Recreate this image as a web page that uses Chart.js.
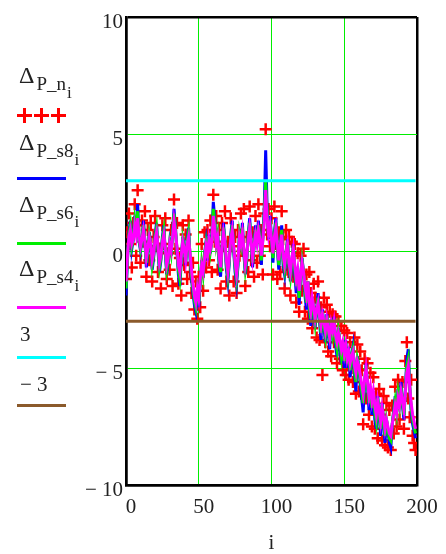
<!DOCTYPE html>
<html>
<head>
<meta charset="utf-8">
<script src="https://cdn.jsdelivr.net/npm/chart.js@4.4.0/dist/chart.umd.min.js"></script>
<style>
html, body { margin: 0; padding: 0; background: #fff; }
#wrap { position: relative; width: 446px; height: 554px; }
#chart { position: absolute; left: 0; top: 0; }
.lab { position: absolute; left: 19px; font-family: 'Liberation Serif', serif; font-size: 24px; line-height: 1; color: #222; white-space: nowrap; }
.num { font-size: 21px; left: 20px; }
.sb { font-size: 19px; position: relative; top: 7px; margin-left: 2px; }
.ss { font-size: 17px; position: relative; top: 8px; margin-left: 1px; }
.mk { position: absolute; left: 17px; width: 49px; height: 3px; }
.cr { position: absolute; top: 108px; width: 15px; height: 15px;
      background: linear-gradient(#f00, #f00) center / 100% 3px no-repeat,
                  linear-gradient(#f00, #f00) center / 3px 100% no-repeat; }
</style>
</head>
<body>
<div id="wrap">
  <canvas id="chart" width="446" height="554"></canvas>

  <div class="lab" style="top:63px">&Delta;<span class="sb">P_n<span class="ss">i</span></span></div>
  <div class="cr" style="left:17px"></div>
  <div class="cr" style="left:34px"></div>
  <div class="cr" style="left:51px"></div>

  <div class="lab" style="top:130px">&Delta;<span class="sb">P_s8<span class="ss">i</span></span></div>
  <div class="mk" style="top:177px; background:#0000ff"></div>

  <div class="lab" style="top:192px">&Delta;<span class="sb">P_s6<span class="ss">i</span></span></div>
  <div class="mk" style="top:242px; background:#00ee00"></div>

  <div class="lab" style="top:256px">&Delta;<span class="sb">P_s4<span class="ss">i</span></span></div>
  <div class="mk" style="top:306px; background:#ff00ff"></div>

  <div class="lab num" style="top:324px">3</div>
  <div class="mk" style="top:356px; background:#00ffff"></div>

  <div class="lab num" style="top:374px">&minus; 3</div>
  <div class="mk" style="top:404px; background:#8b5a2b"></div>
</div>

<script>
// значения (i = 0..199)
const dPn = [
  -1.2, 0.8, 1.6, 0.3, -0.7, 1.2, 2.0, -0.2, 2.6, 1.1,
  -0.5, 1.3, 0.4, 1.7, -1.1, 0.9, -0.4, 1.2, -1.3, 0.6,
  1.5, 0.2, -0.9, 0.1, -1.6, 1.1, 0.3, 1.4, -1.2, -0.1,
  -0.8, 0.9, -1.5, 2.2, 0.1, 1.2, -1.4, -0.3, -1.9, 1.1,
  -0.6, 0.7, -1.2, 1.3, -0.9, -1.8, -0.5, -2.5, -1.3, -2.9,
  -1.1, -2.4, 0.3, -1.7, 0.8, -0.7, 0.9, -0.4, 1.3, -0.9,
  2.4, 0.4, 1.5, -0.8, 0.9, -1.6, 1.2, 0.2, 1.7, -1.3,
  0.4, -1.9, 1.4, 0.2, -1.3, 0.6, -1.8, 0.9, -0.2, 1.6,
  0.0, 1.8, -1.5, 0.6, -0.9, 1.9, -0.4, 0.8, -1.1, 1.5,
  -0.5, 2.0, -0.2, 0.9, -1.0, 1.6, 5.2, 0.7, 1.8, 0.2,
  1.4, -1.0, 1.9, 0.3, -1.2, 0.8, -0.9, 1.7, 0.5, -1.6,
  0.9, -0.8, 0.6, -1.9, 0.4, -1.1, 0.3, -2.2, -0.1, -2.6,
  -0.2, -1.7, 0.1, -2.6, -1.0, -2.9, -0.9, -1.8, -3.3, -1.4,
  -2.0, -3.7, -1.3, -3.8, -2.4, -5.3, -2.0, -3.9, -2.3, -4.3,
  -2.6, -4.5, -2.7, -3.9, -2.8, -4.8, -3.0, -4.6, -3.2, -5.1,
  -3.4, -5.3, -3.5, -5.5, -3.9, -5.0, -5.6, -3.7, -6.1, -4.0,
  -6.0, -4.3, -5.1, -7.4, -4.6, -6.3, -4.8, -7.0, -5.2, -7.5,
  -5.4, -7.6, -6.1, -8.0, -5.9, -7.0, -8.1, -6.2, -8.3, -6.5,
  -8.4, -6.8, -8.5, -6.6, -7.8, -5.8, -7.5, -5.5, -7.2, -6.4,
  -5.6, -7.6, -4.7, -3.9, -6.3, -7.1, -5.5, -7.9, -8.2, -8.5
];

const dPs8 = [
  -1.9, -0.4, 0.8, 1.3, 0.1, 0.5, 1.5, 0.9, 2.0, 0.4,
  0.0, 0.5, 1.3, 0.4, -0.7, -0.1, 0.8, 0.3, -0.8, -0.3,
  0.7, 1.2, 0.0, -0.9, -0.4, 0.6, 1.1, -0.1, -1.0, -0.5,
  0.3, -0.2, 0.8, 1.8, 1.0, 0.0, -1.0, -1.5, -0.4, 0.6,
  0.1, -0.6, 0.5, 1.0, -0.3, -1.2, -1.8, -2.3, -2.6, -1.8,
  -2.4, -1.4, -0.4, -1.1, -0.1, 0.4, -0.4, 0.7, -0.1, 0.6,
  2.1, 1.4, 0.3, 0.8, -0.6, -1.1, 0.2, 1.2, 0.4, -0.8,
  -1.3, -0.5, 0.7, 1.3, 0.0, -0.9, -1.4, -0.6, 0.8, 0.3,
  1.2, -0.1, -1.0, -0.4, 0.7, 1.4, 0.4, -0.7, 0.2, 1.1,
  0.3, 1.3, 0.5, -0.6, 0.6, 1.8, 4.3, 1.8, 0.5, 1.5,
  0.5, -0.5, 0.8, 1.4, 0.1, -0.8, 0.2, 1.1, -0.6, -1.0,
  -0.1, 0.5, -0.7, -1.3, -0.5, 0.3, -1.0, -1.8, -1.0, -2.3,
  -1.1, -0.3, -0.9, -1.9, -2.5, -1.3, -2.6, -3.2, -2.0, -2.6,
  -3.3, -2.5, -1.8, -3.0, -3.8, -2.5, -3.2, -3.9, -2.7, -3.5,
  -4.2, -2.9, -3.6, -2.8, -4.0, -4.5, -3.3, -4.0, -4.8, -3.9,
  -5.0, -3.8, -5.0, -4.1, -5.4, -4.5, -4.1, -5.3, -6.0, -4.5,
  -4.9, -5.7, -6.3, -6.9, -5.7, -4.8, -5.8, -6.8, -5.8, -7.0,
  -6.0, -7.2, -7.6, -6.2, -7.0, -7.9, -6.5, -7.3, -8.2, -7.2,
  -7.7, -8.2, -8.4, -7.4, -6.8, -6.2, -6.9, -5.9, -6.6, -5.6,
  -6.6, -7.2, -5.9, -4.6, -4.2, -5.8, -6.9, -7.4, -7.7, -8.0
];

const dPs6 = [
  -1.6, -0.3, 0.7, 1.1, 0.2, 0.5, 1.3, 0.8, 1.7, 0.5,
  0.1, 0.5, 1.1, 0.4, -0.5, 0.0, 0.7, 0.3, -0.6, -0.2,
  0.6, 1.0, 0.1, -0.7, -0.3, 0.5, 0.9, 0.0, -0.8, -0.4,
  0.3, -0.1, 0.7, 1.6, 0.9, 0.1, -0.8, -1.2, -0.3, 0.5,
  0.1, -0.5, 0.4, 0.8, -0.2, -1.0, -1.6, -2.1, -2.4, -1.7,
  -2.2, -1.3, -0.5, -1.0, -0.2, 0.3, -0.3, 0.6, 0.0, 0.5,
  1.8, 1.2, 0.3, 0.7, -0.4, -0.9, 0.2, 1.0, 0.4, -0.6,
  -1.1, -0.4, 0.6, 1.1, 0.1, -0.7, -1.2, -0.5, 0.7, 0.3,
  1.0, 0.0, -0.8, -0.3, 0.6, 1.2, 0.4, -0.5, 0.2, 0.9,
  0.3, 1.1, 0.5, -0.4, 0.5, 1.5, 3.0, 1.6, 0.6, 1.3,
  0.5, -0.3, 0.7, 1.2, 0.2, -0.6, 0.2, 0.9, -0.4, -0.8,
  -0.1, 0.4, -0.6, -1.1, -0.4, 0.2, -0.8, -1.5, -0.9, -2.0,
  -1.1, -0.4, -0.9, -1.7, -2.2, -1.3, -2.4, -2.9, -2.0, -2.5,
  -3.1, -2.5, -2.0, -2.9, -3.5, -2.6, -3.1, -3.6, -2.8, -3.4,
  -3.9, -3.0, -3.5, -2.9, -3.8, -4.2, -3.4, -3.9, -4.5, -3.9,
  -4.7, -3.9, -4.8, -4.2, -5.1, -4.5, -4.2, -5.1, -5.6, -4.6,
  -4.9, -5.5, -6.0, -6.5, -5.6, -4.9, -5.7, -6.5, -5.8, -6.7,
  -6.0, -6.9, -7.3, -6.3, -6.9, -7.6, -6.6, -7.2, -7.9, -7.2,
  -7.6, -8.0, -8.1, -7.4, -6.9, -6.4, -6.9, -6.1, -6.6, -5.8,
  -6.5, -7.0, -6.0, -4.9, -4.6, -5.8, -6.7, -7.2, -7.5, -7.8
];

const dPs4 = [
  -1.3, -0.2, 0.6, 0.9, 0.3, 0.5, 1.1, 0.7, 1.4, 0.6,
  0.2, 0.5, 0.9, 0.4, -0.3, 0.1, 0.6, 0.3, -0.4, -0.1,
  0.5, 0.8, 0.2, -0.5, -0.2, 0.4, 0.7, 0.1, -0.6, -0.3,
  0.3, 0.0, 0.6, 1.3, 0.8, 0.2, -0.6, -0.9, -0.2, 0.4,
  0.1, -0.4, 0.3, 0.6, -0.1, -0.8, -1.4, -1.9, -2.2, -1.6,
  -2.0, -1.2, -0.6, -0.9, -0.3, 0.2, -0.2, 0.5, 0.1, 0.4,
  1.5, 1.0, 0.3, 0.6, -0.2, -0.7, 0.2, 0.8, 0.4, -0.4,
  -0.9, -0.3, 0.5, 0.9, 0.2, -0.5, -1.0, -0.4, 0.6, 0.3,
  0.8, 0.1, -0.6, -0.2, 0.5, 1.0, 0.4, -0.3, 0.2, 0.7,
  0.3, 0.9, 0.5, -0.2, 0.4, 1.2, 2.6, 1.4, 0.7, 1.1,
  0.5, -0.1, 0.6, 1.0, 0.3, -0.4, 0.2, 0.7, -0.2, -0.6,
  -0.1, 0.3, -0.5, -0.9, -0.3, 0.1, -0.6, -1.2, -0.8, -1.7,
  -1.1, -0.5, -0.9, -1.5, -1.9, -1.3, -2.2, -2.6, -2.0, -2.4,
  -2.9, -2.5, -2.2, -2.8, -3.2, -2.7, -3.0, -3.4, -2.9, -3.3,
  -3.7, -3.1, -3.4, -3.0, -3.6, -3.9, -3.5, -3.8, -4.2, -3.9,
  -4.4, -4.0, -4.6, -4.3, -4.8, -4.5, -4.3, -4.9, -5.2, -4.7,
  -4.9, -5.3, -5.7, -6.1, -5.5, -5.0, -5.6, -6.2, -5.8, -6.4,
  -6.0, -6.6, -7.0, -6.4, -6.8, -7.3, -6.7, -7.1, -7.6, -7.2,
  -7.5, -7.8, -7.9, -7.4, -7.0, -6.6, -6.9, -6.3, -6.6, -6.0,
  -6.4, -6.8, -6.1, -5.2, -4.9, -5.8, -6.5, -7.0, -7.3, -7.6
];

const levelHi = 3;
const levelLo = -3;

const xTicks = [0, 50, 100, 150, 200];
const yTicks = [-10, -5, 0, 5, 10];

const toXY = arr => arr.map((v, i) => ({ x: i, y: v }));
const flat = val => dPn.map((v, i) => ({ x: i, y: val }));

const serif = "'Liberation Serif', 'Times New Roman', serif";
const grid = '#00ee00';

function fmt(v) {
  return v < 0 ? '\u2212 ' + Math.abs(v) : String(v);
}

new Chart(document.getElementById('chart'), {
  type: 'line',
  data: {
    datasets: [
      { data: flat(levelHi), borderColor: '#00ffff', borderWidth: 3, pointRadius: 0, order: 0 },
      { data: flat(levelLo), borderColor: '#8b5a2b', borderWidth: 3, pointRadius: 0, order: 1 },
      { data: toXY(dPs4), borderColor: '#ff00ff', borderWidth: 3, pointRadius: 0, order: 2 },
      { data: toXY(dPs6), borderColor: '#00ee00', borderWidth: 3, pointRadius: 0, order: 3 },
      { data: toXY(dPs8), borderColor: '#0000ff', borderWidth: 3, pointRadius: 0, order: 4 },
      { data: toXY(dPn), showLine: false, pointStyle: 'cross', pointRadius: 6,
        pointBorderWidth: 2.5, borderColor: '#ff0000', backgroundColor: '#ff0000', order: 5 }
    ]
  },
  options: {
    responsive: false,
    animation: false,
    events: [],
    layout: { padding: { left: 86, top: 17, right: 29, bottom: 0 } },
    plugins: { legend: { display: false }, tooltip: { enabled: false } },
    scales: {
      x: {
        type: 'linear',
        min: 0, max: 200,
        afterBuildTicks: s => { s.ticks = xTicks.map(v => ({ value: v })); },
        afterFit: s => { s.height = 69; },
        grid: {
          drawTicks: false,
          color: c => (c.tick && (c.tick.value === 200 || c.tick.value === 0)) ? '#000' : grid,
          lineWidth: c => (c.tick && (c.tick.value === 200 || c.tick.value === 0)) ? 2.5 : 1
        },
        border: { display: true, color: '#000', width: 2.5 },
        ticks: { padding: 10, labelOffset: 5, color: '#222', font: { family: serif, size: 21 }, maxRotation: 0, callback: fmt },
        title: { display: true, text: 'i', color: '#222', font: { family: serif, size: 21, lineHeight: 1 }, padding: { top: 0, bottom: 0 } }
      },
      y: {
        type: 'linear',
        min: -10, max: 10,
        afterBuildTicks: s => { s.ticks = yTicks.map(v => ({ value: v })); },
        afterFit: s => { s.width = 40; },
        grid: {
          drawTicks: false,
          color: c => (c.tick && Math.abs(c.tick.value) === 10) ? '#000' : grid,
          lineWidth: c => (c.tick && Math.abs(c.tick.value) === 10) ? 2.5 : 1
        },
        border: { display: true, color: '#000', width: 2.5 },
        ticks: { padding: 3, labelOffset: 5, color: '#222', font: { family: serif, size: 21 }, callback: fmt }
      }
    }
  }
});
</script>
</body>
</html>
